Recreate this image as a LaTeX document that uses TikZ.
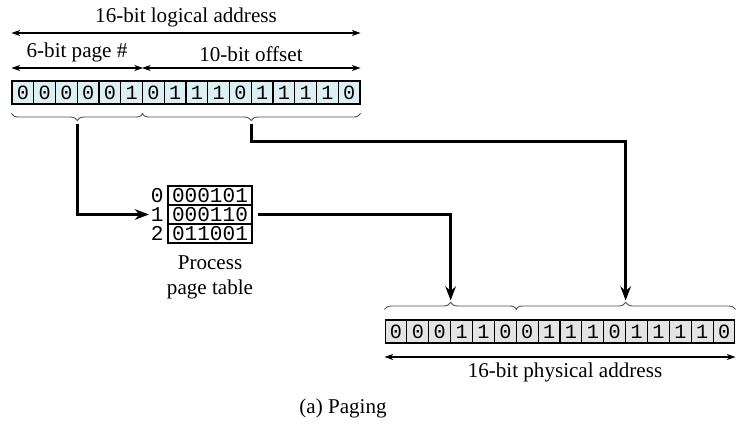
\documentclass[tikz,border=0pt]{standalone}
\usepackage{fontspec}
\setmainfont{Liberation Serif}
\setmonofont{Liberation Mono}
\usetikzlibrary{arrows.meta,calc,decorations.pathreplacing,positioning}
\definecolor{logfill}{HTML}{DDEFF2}
\definecolor{physfill}{HTML}{E4E4E4}
\tikzset{
  bit/.style={draw, line width=0.6pt, minimum width=0.435cm, minimum height=0.46cm,
    inner sep=0pt, font=\ttfamily\fontsize{11.5}{12}\selectfont},
  lbit/.style={bit, fill=logfill},
  pbit/.style={bit, fill=physfill},
  entry/.style={draw, line width=0.6pt, minimum width=1.68cm, minimum height=0.38cm,
    inner sep=0pt, font=\ttfamily\fontsize{12}{12}\selectfont},
  idx/.style={inner sep=1pt, font=\ttfamily\fontsize{12}{12}\selectfont},
  lbl/.style={font=\fontsize{12}{14}\selectfont},
  dim/.style={{Stealth[length=5pt,width=3.5pt]}-{Stealth[length=5pt,width=3.5pt]}, line width=0.6pt},
  brc/.style={decorate, line width=0.5pt, draw=black!70},
  flow/.style={-{Stealth[length=8pt,width=6pt]}, line width=1.6pt}
}
\begin{document}
\begin{tikzpicture}[x=0.02cm, y=-0.02cm]
\useasboundingbox (0,0) rectangle (750,429);
% logical address
\foreach \b [count=\i] in {0,0,0,0,0,1,0,1,1,1,0,1,1,1,1,0}
  \node[lbit] (l\i) at ({12+21.75*(\i-0.5)},92.5) {\b};
\node[lbl, above] (la) at (186,33) {16-bit logical address};
\draw[dim] (l1.west |- la.south) -- (l16.east |- la.south);
\node[lbl, above] (pa) at (77,68) {6-bit page \#};
\draw[dim] (l1.west |- pa.south) -- (l6.east |- pa.south);
\node[lbl, above] (oa) at (251,68) {10-bit offset};
\draw[dim] (l7.west |- oa.south) -- (l16.east |- oa.south);
\draw[brc, decoration={brace, mirror, amplitude=0.14cm}]
  ([yshift=-0.18cm]l1.south west) -- ([yshift=-0.18cm]l6.south east);
\draw[brc, decoration={brace, mirror, amplitude=0.14cm}]
  ([yshift=-0.18cm]l7.south west) -- ([yshift=-0.18cm]l16.south east);
\coordinate (pgtip) at ([yshift=-0.38cm]$(l1.south west)!0.5!(l6.south east)$);
\coordinate (oftip) at ([yshift=-0.38cm]$(l7.south west)!0.5!(l16.south east)$);
% page table
\node[entry] (t0) at (210,195.5) {000101};
\node[entry] (t1) at (210,214.5) {000110};
\node[entry] (t2) at (210,233.5) {011001};
\foreach \r in {0,1,2}
  \node[idx, left=1pt of t\r] (i\r) {\r};
\node[lbl, align=center, below=0.12cm of t2] (pt) {Process\\page table};
% physical address
\foreach \b [count=\i] in {0,0,0,1,1,0,0,1,1,1,0,1,1,1,1,0}
  \node[pbit] (p\i) at ({385+21.875*(\i-0.5)},331.5) {\b};
\draw[brc, decoration={brace, amplitude=0.14cm}]
  ([yshift=0.2cm]p1.north west) -- ([yshift=0.2cm]p6.north east);
\draw[brc, decoration={brace, amplitude=0.14cm}]
  ([yshift=0.2cm]p7.north west) -- ([yshift=0.2cm]p16.north east);
\coordinate (phpg) at ([yshift=0.38cm]$(p1.north west)!0.5!(p6.north east)$);
\coordinate (phof) at ([yshift=0.38cm]$(p7.north west)!0.5!(p16.north east)$);
\node[lbl, below] (pha) at (565,357) {16-bit physical address};
\draw[dim] (p1.west |- pha.north) -- (p16.east |- pha.north);
% mapping
\draw[flow] (pgtip) |- (i1.west);
\draw[flow] (oftip) -- ++(0,18) -| (phof);
\draw[flow, shorten <=3pt] (t1.east) -| (phpg);
\node[lbl] (cap) at (343,408) {(a) Paging};
\end{tikzpicture}
\end{document}
